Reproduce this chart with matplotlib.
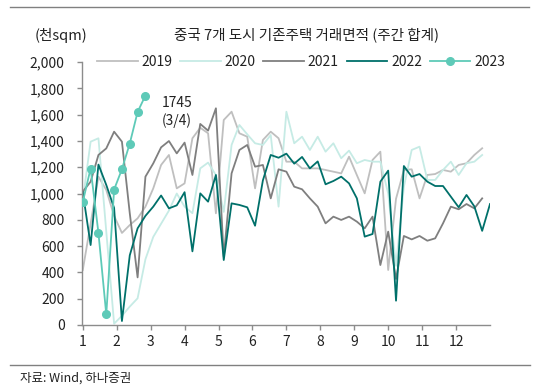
import matplotlib
matplotlib.use("Agg")
import matplotlib.pyplot as plt
import numpy as np

plt.rcParams['font.family'] = ['Noto Sans CJK KR', 'DejaVu Sans']

title = "중국 7개 도시 기존주택 거래면적 (주간 합계)"
unit_label = "(천sqm)"
source = "자료: Wind, 하나증권"
month_labels = [str(m) for m in range(1, 13)]
y_ticks = [0, 200, 400, 600, 800, 1000, 1200, 1400, 1600, 1800, 2000]

y2019 = [418, 770, 1128, 1027, 830, 700, 760, 811, 900, 1039, 1217, 1293, 1039, 1077,
         1420, 1500, 1458, 849, 1559, 1622, 1458, 1432, 1039, 1407, 1470, 1420, 1242,
         1242, 1191, 1191, 1191, 1179, 1166, 1153, 1280, 1140, 1001, 1255, 1318, 418,
         960, 1179, 1184, 963, 1141, 1148, 1179, 1166, 1217, 1230, 1293, 1344]
y2020 = [950, 1394, 1420, 710, 10, 70, 140, 203, 500, 670, 770, 870, 1000, 900,
         850, 1191, 1235, 1140, 860, 1369, 1521, 1450, 1382, 1369, 1445, 900, 1622,
         1382, 1432, 1331, 1432, 1318, 1382, 1268, 1326, 1230, 1255, 1242, 1242, 1000,
         450, 1050, 1331, 1356, 1103, 1103, 1179, 1242, 1141, 1230, 1242, 1293]
y2021 = [1014, 1090, 1293, 1343, 1470, 1394, 850, 362, 1128, 1229, 1351, 1399, 1305, 1387,
         1141, 1529, 1478, 1648, 520, 1153, 1331, 1369, 1204, 1217, 963, 1184, 1166,
         1052, 1032, 963, 900, 773, 824, 799, 824, 786, 735, 824, 456, 710,
         350, 677, 651, 677, 641, 659, 773, 900, 880, 920, 887, 963]
y2022 = [1010, 608, 1220, 1065, 890, 30, 530, 735, 830, 900, 985, 887, 910, 1010,
         560, 1001, 938, 1141, 494, 925, 913, 895, 755, 1100, 1293, 1272, 1303,
         1227, 1278, 1191, 1244, 1070, 1095, 1128, 1077, 963, 672, 692, 1090, 1174,
         185, 1209, 1128, 1148, 1090, 1057, 1057, 976, 895, 989, 902, 716, 920]
y2023 = [935, 1190, 700, 80, 1030, 1185, 1380, 1620, 1745]

series = [
    ("2019", y2019, "#BFBFBF", None),
    ("2020", y2020, "#C6EBE5", None),
    ("2021", y2021, "#7F7F7F", None),
    ("2022", y2022, "#00706A", None),
    ("2023", y2023, "#5ECAB8", "o"),
]

fig = plt.figure(figsize=(5.38, 3.91), dpi=100)
ax = fig.add_axes([82 / 538, 1 - 325 / 391, 408 / 538, 263 / 391])

for name, vals, color, marker in series:
    x = np.arange(len(vals))
    ax.plot(x, vals, color=color, lw=1.3, marker=marker, markersize=5.5,
            label=name, zorder=3 if name == "2023" else 2)

ax.set_xlim(-0.1, 52)
ax.set_ylim(0, 2000)
ax.set_yticks(y_ticks)
ax.set_yticklabels([f"{v:,}" for v in y_ticks])
ax.set_xticks([(m) * 52 / 12 for m in range(12)])
ax.set_xticklabels(month_labels)

for s in ["top", "right"]:
    ax.spines[s].set_visible(False)
for s in ["left", "bottom"]:
    ax.spines[s].set_color("#8C8C8C")
    ax.spines[s].set_linewidth(1.0)
ax.tick_params(axis="both", colors="#8C8C8C", labelcolor="#222222", labelsize=10,
               length=3.5, width=1.0, direction="out")
ax.tick_params(axis="y", pad=9)
ax.tick_params(axis="x", pad=4)

# annotation for latest value
ax.annotate("1745\n(3/4)", xy=(len(y2023) - 1, y2023[-1]), xytext=(12, -12),
            textcoords="offset points", fontsize=10, color="#222222",
            va="center", ha="left", linespacing=1.25)

leg = ax.legend(loc="center", bbox_to_anchor=(0.537, 1.0), ncol=5, frameon=False,
                fontsize=10, handlelength=2.9, handletextpad=0.3, columnspacing=0.55,
                borderaxespad=0)
for t in leg.get_texts():
    t.set_color("#222222")

fig.text(307 / 538, 1 - 35 / 391, title, ha="center", va="center", fontsize=10.5,
         color="#222222")
fig.text(35 / 538, 1 - 35 / 391, unit_label, ha="left", va="center", fontsize=10.5,
         color="#222222")
fig.text(20 / 538, 1 - 378 / 391, source, ha="left", va="center", fontsize=9,
         color="#222222")

fig.add_artist(plt.Line2D([10 / 538, 529 / 538], [1 - 7 / 391, 1 - 7 / 391],
                          color="#808080", lw=1.0))
fig.add_artist(plt.Line2D([10 / 538, 530 / 538], [1 - 364.5 / 391, 1 - 364.5 / 391],
                          color="#808080", lw=1.0))

fig.savefig("out.png", dpi=100)
